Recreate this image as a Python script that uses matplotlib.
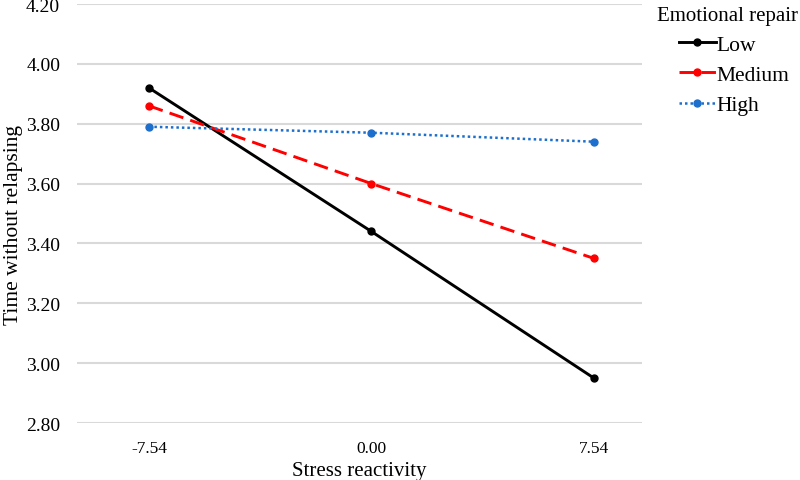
import matplotlib
matplotlib.use("Agg")
import matplotlib.pyplot as plt

# Data
x_labels = ["-7.54", "0.00", "7.54"]
low = [3.92, 3.44, 2.95]
medium = [3.86, 3.60, 3.35]
high = [3.79, 3.77, 3.74]
y_ticks = [2.80, 3.00, 3.20, 3.40, 3.60, 3.80, 4.00, 4.20]

plt.rcParams["font.family"] = ["Liberation Serif", "DejaVu Serif"]

fig = plt.figure(figsize=(8, 4.81), dpi=100)
ax = fig.add_axes([0.096, 0.1185, 0.7065, 0.871])

x = range(len(x_labels))
ax.plot(x, low, color="black", linewidth=2.1, linestyle="-",
        marker="o", markersize=5, label="Low", zorder=3)
ax.plot(x, medium, color="#ff0000", linewidth=2.1, linestyle=(0, (5, 2.5)),
        marker="o", markersize=5, label="Medium", zorder=3)
ax.plot(x, high, color="#1c6fcc", linewidth=1.8, linestyle=(0, (1, 1.2)),
        marker="o", markersize=5, label="High", zorder=3)

ax.set_xlim(-0.324, 2.216)
ax.set_ylim(2.80, 4.20)
ax.set_xticks(list(x))
ax.set_xticklabels(x_labels, fontsize=12.5)
ax.set_yticks(y_ticks)
ax.set_yticklabels([f"{v:.2f}" for v in y_ticks], fontsize=14)
ax.tick_params(axis="x", length=0, pad=12)
ax.tick_params(axis="y", length=0, pad=12)
ax.grid(True, axis="y", color="#d9d9d9", linewidth=1.5, zorder=0)
ax.set_axisbelow(True)
for s in ax.spines.values():
    s.set_visible(False)

ax.set_xlabel("Stress reactivity", fontsize=15, labelpad=4)
ax.set_ylabel("Time without relapsing", fontsize=15.5)
ax.yaxis.set_label_coords(-0.096, 0.475)

fig.text(0.821, 0.966, "Emotional repair", fontsize=15, ha="left", va="center")
fig.legend(loc="upper left", bbox_to_anchor=(0.849, 0.926), frameon=False,
           fontsize=15.5, borderpad=0, borderaxespad=0,
           handlelength=1.7, handletextpad=0.05, labelspacing=0.47)

fig.savefig("out.png", dpi=100)
